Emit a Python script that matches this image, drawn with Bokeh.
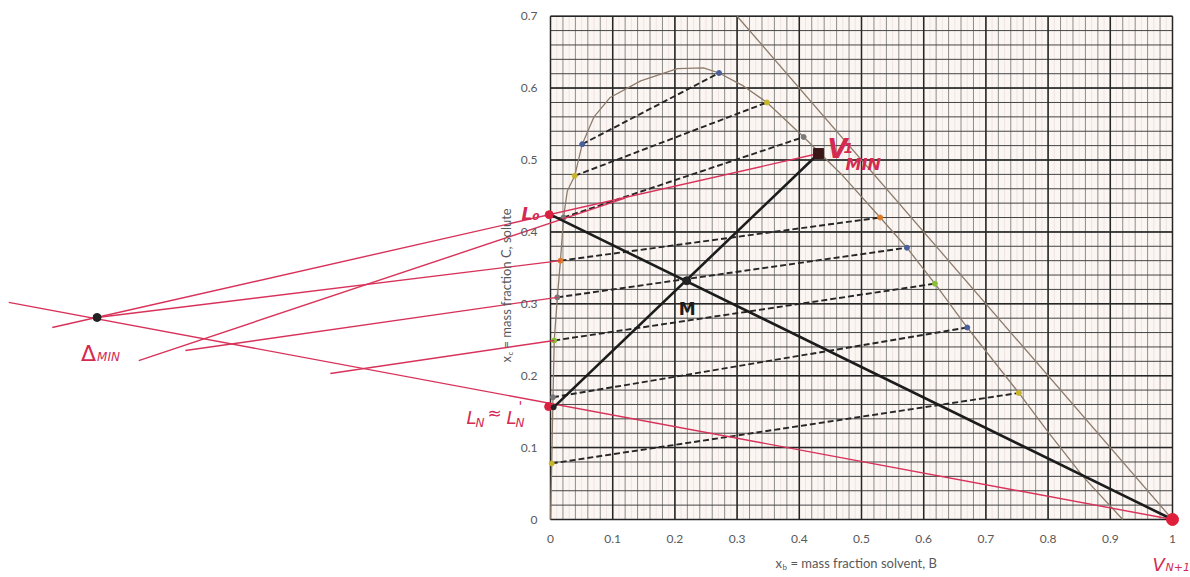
import numpy as np
from bokeh.plotting import figure
from bokeh.models import Range1d, LinearAxis, FixedTicker, PrintfTickFormatter, Label
from bokeh.core.properties import value
from bokeh.embed import file_html
from bokeh.resources import INLINE

# ---------------- data ----------------
# binodal (equilibrium) curve
curve_x = [0.000, 0.002, 0.004, 0.006, 0.011, 0.016, 0.021, 0.027, 0.039, 0.051, 0.070, 0.096,
           0.145, 0.204, 0.246, 0.271, 0.310, 0.348, 0.407, 0.470, 0.530, 0.573, 0.618, 0.670,
           0.753, 0.798, 0.857, 0.920]
curve_y = [0.000, 0.078, 0.170, 0.249, 0.309, 0.360, 0.420, 0.457, 0.478, 0.522, 0.560, 0.587,
           0.610, 0.627, 0.628, 0.621, 0.603, 0.580, 0.532, 0.478, 0.420, 0.378, 0.328, 0.267,
           0.176, 0.124, 0.059, 0.000]

# hypotenuse x_B + x_C = 1
hyp_x = [0.3, 1.0]
hyp_y = [0.7, 0.0]

# tie lines (raffinate -> extract)
raff_x = [0.002, 0.004, 0.006, 0.011, 0.016, 0.021, 0.039, 0.051]
raff_y = [0.078, 0.170, 0.249, 0.309, 0.360, 0.420, 0.478, 0.522]
ext_x = [0.753, 0.670, 0.618, 0.573, 0.530, 0.407, 0.348, 0.271]
ext_y = [0.176, 0.267, 0.328, 0.378, 0.420, 0.532, 0.580, 0.621]
raff_colors = ["#c9b52a", "#777777", "#8bbd3a", "#777777", "#e07b2a", "#777777", "#c9b52a", "#4a5f9a"]
ext_colors = ["#c9b52a", "#4a5f9a", "#8bbd3a", "#4a5f9a", "#e07b2a", "#7a7a7a", "#c9b52a", "#4a5f9a"]

# key points
L0 = (0.0, 0.424)
LN = (0.005, 0.156)
V1 = (0.431, 0.509)
VN1 = (1.0, 0.0)
M = (0.219, 0.332)
DELTA = (-0.729, 0.281)

# black construction lines
black_x0 = [L0[0], LN[0]]
black_y0 = [L0[1], LN[1]]
black_x1 = [VN1[0], V1[0]]
black_y1 = [VN1[1], V1[1]]

# red operating lines (hand-drawn)
red_x0 = [-0.871, -0.801, -0.729, -0.662, -0.587, -0.354]
red_y0 = [0.302, 0.267, 0.281, 0.221, 0.235, 0.203]
red_x1 = [1.000, 0.431, 0.016, 0.120, 0.011, 0.006]
red_y1 = [0.000, 0.509, 0.360, 0.447, 0.309, 0.249]

# red points
red_pt_x = [-0.002, -0.003]
red_pt_y = [0.424, 0.157]

# axes ticks
x_ticks = [0, 0.1, 0.2, 0.3, 0.4, 0.5, 0.6, 0.7, 0.8, 0.9, 1]
x_tick_labels = ["0", "0.1", "0.2", "0.3", "0.4", "0.5", "0.6", "0.7", "0.8", "0.9", "1"]
y_ticks = [0, 0.1, 0.2, 0.3, 0.4, 0.5, 0.6, 0.7]
y_tick_labels = ["0", "0.1", "0.2", "0.3", "0.4", "0.5", "0.6", "0.7"]

# ---------------- figure ----------------
W, H = 1190, 577
X0, X1 = -550 / 622, (1190 - 550) / 622
Y0, Y1 = (519 - 577) / 719, 519 / 719
sx = W / (X1 - X0)
sy = H / (Y1 - Y0)

def ox(px):  # pixel offset -> data x
    return px / sx

def oy(py):  # pixel offset (downwards) -> data y
    return -py / sy

p = figure(width=W, height=H, x_range=Range1d(X0, X1), y_range=Range1d(Y0, Y1),
           output_backend="svg", toolbar_location=None, min_border=0,
           x_axis_type=None, y_axis_type=None)
p.outline_line_color = None
p.background_fill_color = "white"
p.border_fill_color = "white"

# graph paper
p.quad(left=[0], right=[1], bottom=[0], top=[0.7], fill_color="#fcf6f3", line_color=None)
fine_x = np.round(np.arange(0.01, 1.0, 0.02), 3)
minor_x = np.round(np.arange(0.0, 1.0001, 0.02), 3)
major_x = np.round(np.arange(0.0, 1.0001, 0.1), 3)
minor_y = np.round(np.arange(0.0, 0.7001, 0.02), 3)
major_y = np.round(np.arange(0.0, 0.7001, 0.1), 3)
p.segment(x0=fine_x, y0=0, x1=fine_x, y1=0.7, line_color="#e2d9d9", line_width=0.6)
p.segment(x0=minor_x, y0=0, x1=minor_x, y1=0.7, line_color="#707070", line_width=0.8)
p.segment(x0=0, y0=minor_y, x1=1, y1=minor_y, line_color="#444444", line_width=1.0)
p.segment(x0=major_x, y0=0, x1=major_x, y1=0.7, line_color="#262626", line_width=1.5)
p.segment(x0=0, y0=major_y, x1=1, y1=major_y, line_color="#262626", line_width=1.5)

# axes at fixed locations
xa = LinearAxis(fixed_location=0, ticker=FixedTicker(ticks=x_ticks),
                formatter=PrintfTickFormatter(format="%g"),
                major_label_overrides=dict(zip(x_ticks, x_tick_labels)))
ya = LinearAxis(fixed_location=0, ticker=FixedTicker(ticks=y_ticks),
                formatter=PrintfTickFormatter(format="%g"),
                major_label_overrides=dict(zip(y_ticks, y_tick_labels)))
for ax in (xa, ya):
    ax.axis_line_color = None
    ax.major_tick_line_color = None
    ax.minor_tick_line_color = None
    ax.major_tick_out = 0
    ax.major_tick_in = 0
    ax.major_label_text_font = "Lato"
    ax.major_label_text_font_size = "12px"
    ax.major_label_text_color = "#595959"
xa.major_label_standoff = 15
ya.major_label_standoff = 13
p.add_layout(xa, "below")
p.add_layout(ya, "left")

# binodal curve and hypotenuse
p.line(curve_x, curve_y, line_color="#8c7b6b", line_width=1.3)
p.line(hyp_x, hyp_y, line_color="#8c7b6b", line_width=1.3)

# tie lines
p.segment(x0=raff_x, y0=raff_y, x1=ext_x, y1=ext_y, line_color="#262626",
          line_width=1.9, line_dash="6 3")
p.scatter(raff_x, raff_y, size=5, color=raff_colors)
p.scatter(ext_x, ext_y, size=5, color=ext_colors)

# red operating lines
p.segment(x0=red_x0, y0=red_y0, x1=red_x1, y1=red_y1, line_color="#d8325a", line_width=1.4)

# black construction lines
p.segment(x0=black_x0, y0=black_y0, x1=black_x1, y1=black_y1, line_color="#1c1c1c", line_width=2.6)

# points
p.scatter(red_pt_x, red_pt_y, size=8, color="#d8203f")
p.scatter([VN1[0]], [VN1[1]], size=12, color="#e0203a")
p.scatter([V1[0]], [V1[1]], size=10, marker="square", color="#3a1717")
p.scatter([M[0], DELTA[0], LN[0]], [M[1], DELTA[1], LN[1]], size=[8, 8, 5], color="#222222")

RED = "#d42a52"
def txt(x, y, s, size, color=RED, style="italic", font="DejaVu Sans"):
    p.text(x=[x], y=[y], text=[s], text_font=value(font), text_font_size=size,
           text_color=color, text_font_style=style, text_baseline="alphabetic", text_align="left")

# L0 label
txt(L0[0] + ox(-29), L0[1] + oy(-1), "L₀", "17px", style="bold italic")
# V1 MIN label
txt(V1[0] + ox(9), V1[1] + oy(-5), "V", "26px", style="bold italic")
txt(V1[0] + ox(25), V1[1] + oy(-6), "1", "14px", style="bold italic")
txt(V1[0] + ox(27), V1[1] + oy(11), "MIN", "16px", style="bold italic")
# M label
txt(M[0] + ox(-8), M[1] + oy(28), "M", "17px", color="#1c1c1c", style="bold")
# Delta MIN label
txt(DELTA[0] + ox(-16), DELTA[1] + oy(36), "Δ", "22px", style="normal")
txt(DELTA[0] + ox(0), DELTA[1] + oy(40), "MIN", "12px", style="italic")
# L_N ~ L'_N label
txt(LN[0] + ox(-87), LN[1] + oy(10), "L", "18px", style="italic")
txt(LN[0] + ox(-78), LN[1] + oy(16), "N", "12px", style="italic")
txt(LN[0] + ox(-66), LN[1] + oy(6), "≈", "17px", style="normal")
txt(LN[0] + ox(-47), LN[1] + oy(10), "L", "18px", style="italic")
txt(LN[0] + ox(-38), LN[1] + oy(16), "N", "12px", style="italic")
txt(LN[0] + ox(-35), LN[1] + oy(-1), "'", "14px", style="normal")
# V_N+1 label
txt(VN1[0] + ox(-20), VN1[1] + oy(45), "V", "18px", style="italic")
txt(VN1[0] + ox(-7), VN1[1] + oy(48), "N+1", "11px", style="italic")

# axis titles
GREY = "#595959"
p.add_layout(Label(x=ox(775 - 550), y=oy(562 - 519), text="x", text_font="Lato",
                   text_font_size="13px", text_color=GREY, text_baseline="middle"))
p.add_layout(Label(x=ox(782 - 550), y=oy(566 - 519), text="b", text_font="Lato",
                   text_font_size="8px", text_color=GREY, text_baseline="middle"))
p.add_layout(Label(x=ox(790 - 550), y=oy(562 - 519), text="= mass fraction solvent, B",
                   text_font="Lato", text_font_size="13px", text_color=GREY, text_baseline="middle"))

p.add_layout(Label(x=ox(505 - 550), y=oy(362 - 519), text="x", text_font="Lato", angle=np.pi / 2,
                   text_font_size="13px", text_color=GREY, text_baseline="middle"))
p.add_layout(Label(x=ox(509 - 550), y=oy(355 - 519), text="c", text_font="Lato", angle=np.pi / 2,
                   text_font_size="8px", text_color=GREY, text_baseline="middle"))
p.add_layout(Label(x=ox(505 - 550), y=oy(348 - 519), text="= mass fraction C, solute", angle=np.pi / 2,
                   text_font="Lato", text_font_size="13px", text_color=GREY, text_baseline="middle"))

open("out.html", "w").write(file_html(p, INLINE))
